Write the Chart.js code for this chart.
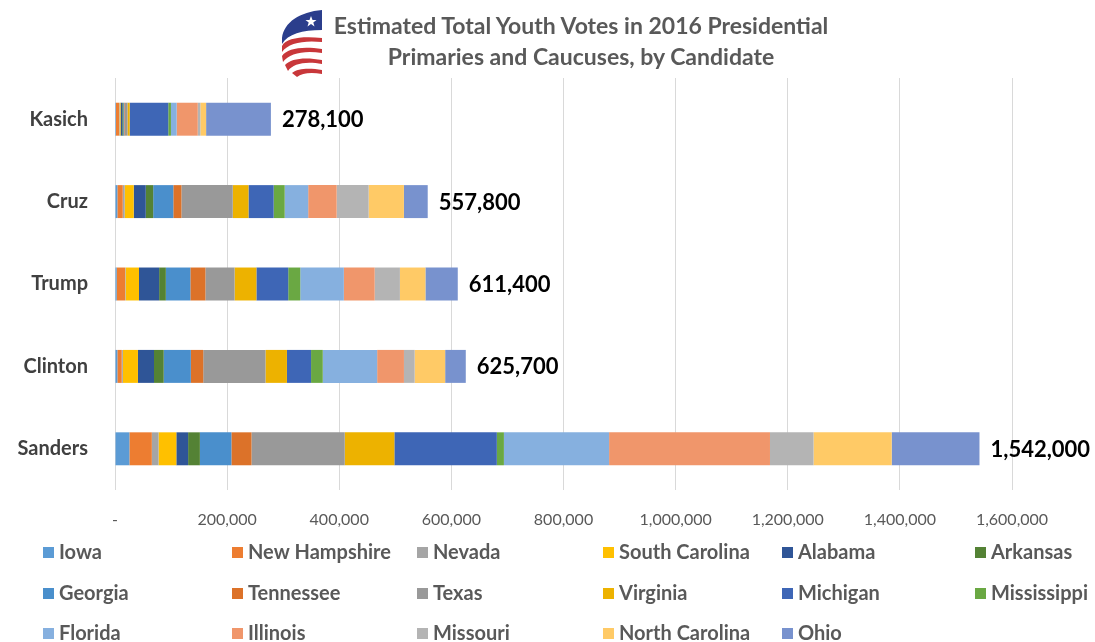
<!DOCTYPE html>
<html>
<head>
<meta charset="utf-8">
<script src="https://cdn.jsdelivr.net/npm/chart.js@4.4.1/dist/chart.umd.min.js"></script>
<style>
  body { margin: 0; background: #fff; }
  #wrap { position: relative; width: 1095px; height: 642px; overflow: hidden; }
  #chart { position: absolute; left: 0; top: 0; }
  #title {
    position: absolute; left: 320px; width: 522px; top: 10px;
    font-family: Lato, "DejaVu Sans", sans-serif; font-weight: bold;
    font-size: 23px; line-height: 31px; color: #595959; text-align: center;
    white-space: nowrap;
  }
  #logo { position: absolute; left: 278px; top: 8px; }
</style>
</head>
<body>
<div id="wrap">
  <canvas id="chart" width="1095" height="642"></canvas>
  <svg id="logo" width="48" height="70" viewBox="0 0 48 70">
    <path d="M44 2 C22 4 6 14 4 30 L4 36 C10 26 24 22 44 22 Z" fill="#2B3E8C"/>
    <polygon points="33,8 34.5,12 38.5,12 35.3,14.5 36.5,18.5 33,16 29.5,18.5 30.7,14.5 27.5,12 31.5,12" fill="#fff"/>
    <path d="M4 38 C8 30 24 28 44 30 L44 34 C26 32 10 35 4 44 Z" fill="#C8373A"/>
    <path d="M4 48 C9 40 25 38 44 41 L44 45 C27 42 11 45 5 54 Z" fill="#C8373A"/>
    <path d="M7 57 C13 50 28 49 44 52 L44 56 C29 53 15 55 10 63 Z" fill="#C8373A"/>
    <path d="M14 65 C20 60 32 60 44 62 L44 66 C33 64 24 65 19 69 Z" fill="#C8373A"/>
  </svg>
  <div id="title">Estimated Total Youth Votes in 2016 Presidential<br>Primaries and Caucuses, by Candidate</div>
</div>
<script>
const candidates = ["Kasich", "Cruz", "Trump", "Clinton", "Sanders"];

const states = ["Iowa", "New Hampshire", "Nevada", "South Carolina", "Alabama", "Arkansas",
  "Georgia", "Tennessee", "Texas", "Virginia", "Michigan", "Mississippi",
  "Florida", "Illinois", "Missouri", "North Carolina", "Ohio"];

// youth votes per state, in candidate order: Kasich, Cruz, Trump, Clinton, Sanders
const iowa          = [1800,   4200,  3000,   4200,  25700];
const newHampshire  = [5400,   9600, 14900,   7800,  40000];
const nevada        = [900,    3500,  1000,   2000,  12000];
const southCarolina = [1800,  16100, 23900,  26900,  31700];
const alabama       = [3000,  21500, 35900,  28700,  21000];
const arkansas      = [1800,  13200, 12000,  17300,  21000];
const georgia       = [1500,  35900, 43700,  48400,  56200];
const tennessee     = [1000,  14500, 26900,  22100,  35900];
const texas         = [5000,  91500, 52000, 111000, 166300];
const virginia      = [4000,  28100, 38900,  38300,  88500];
const michigan      = [68800, 44900, 56800,  43000, 182800];
const mississippi   = [4800,  19700, 21500,  20900,  12600];
const florida       = [10200, 41900, 77700,  97000, 187600];
const illinois      = [37600, 50800, 55000,  47800, 287000];
const missouri      = [4700,  57000, 45000,  19100,  77700];
const northCarolina = [10200, 62900, 45500,  54400, 139400];
const ohio          = [115600, 42500, 57700, 36800, 156600];

const xTicks = [0, 200000, 400000, 600000, 800000, 1000000, 1200000, 1400000, 1600000];

const seriesValues = [iowa, newHampshire, nevada, southCarolina, alabama, arkansas,
  georgia, tennessee, texas, virginia, michigan, mississippi,
  florida, illinois, missouri, northCarolina, ohio];

const colors = ["#5B9BD5", "#ED7D31", "#A5A5A5", "#FFC000", "#2F5597", "#548235",
  "#4A8FCC", "#DC7229", "#999999", "#EDB200", "#3E66B6", "#6AA843",
  "#86B0DF", "#F0966B", "#B4B4B4", "#FFCA66", "#7892CE"];

const fmt = v => v.toLocaleString("en-US");

// totals printed at the end of each bar
const totalsPlugin = {
  id: "totals",
  afterDatasetsDraw(chart) {
    const ctx = chart.ctx;
    const last = chart.getDatasetMeta(chart.data.datasets.length - 1);
    ctx.save();
    ctx.font = "bold 22px Lato, sans-serif";
    ctx.fillStyle = "#000";
    ctx.textBaseline = "middle";
    candidates.forEach((c, i) => {
      const total = seriesValues.reduce((s, arr) => s + arr[i], 0);
      const el = last.data[i];
      ctx.fillText(fmt(total), el.x + 11, el.y + 1);
    });
    ctx.restore();
  }
};

// six-column legend under the axis
const legendPlugin = {
  id: "gridLegend",
  afterDraw(chart) {
    const ctx = chart.ctx;
    const cols = [43, 232, 417, 603, 782, 975];
    const rows = [552, 593, 633];
    ctx.save();
    ctx.font = "bold 20px Lato, sans-serif";
    ctx.textBaseline = "middle";
    states.forEach((s, i) => {
      const x = cols[i % 6], y = rows[Math.floor(i / 6)];
      ctx.fillStyle = colors[i];
      ctx.fillRect(x, y - 5, 11, 11);
      ctx.fillStyle = "#595959";
      ctx.fillText(s, x + 16, y + 1);
    });
    ctx.restore();
  }
};

new Chart(document.getElementById("chart"), {
  type: "bar",
  data: {
    labels: candidates,
    datasets: states.map((s, i) => ({
      label: s,
      data: seriesValues[i],
      backgroundColor: colors[i],
      borderWidth: 0,
      categoryPercentage: 0.8,
      barPercentage: 0.5
    }))
  },
  options: {
    indexAxis: "y",
    responsive: false,
    animation: false,
    layout: { padding: { top: 78, bottom: 107, left: 0, right: 83 } },
    scales: {
      x: {
        stacked: true,
        min: 0,
        max: 1600000,
        afterBuildTicks: scale => { scale.ticks = xTicks.map(v => ({ value: v })); },
        afterFit: scale => { scale.height = 45; },
        grid: { color: "#D9D9D9", drawTicks: false },
        border: { display: false },
        ticks: {
          padding: 20,
          color: "#595959",
          font: { family: "Lato, sans-serif", size: 16 },
          callback: v => v === 0 ? "-" : fmt(v)
        }
      },
      y: {
        stacked: true,
        afterFit: scale => { scale.width = 115; },
        grid: { display: false, drawTicks: false },
        border: { display: false },
        ticks: {
          padding: 27,
          color: "#404040",
          font: { family: "Lato, sans-serif", size: 20, weight: "bold" }
        }
      }
    },
    plugins: {
      legend: { display: false },
      tooltip: { enabled: false }
    }
  },
  plugins: [totalsPlugin, legendPlugin]
});
</script>
</body>
</html>
